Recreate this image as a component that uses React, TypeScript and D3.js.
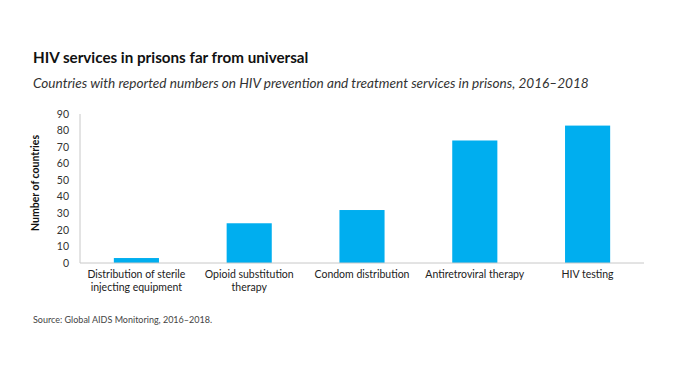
import React from "react";
import * as d3 from "d3";

const categories: string[][] = [
  ["Distribution of sterile", "injecting equipment"],
  ["Opioid substitution", "therapy"],
  ["Condom distribution"],
  ["Antiretroviral therapy"],
  ["HIV testing"],
];
const values: number[] = [3, 24, 32, 74, 83];
const yTicks: number[] = [0, 10, 20, 30, 40, 50, 60, 70, 80, 90];

const title = "HIV services in prisons far from universal";
const subtitle =
  "Countries with reported numbers on HIV prevention and treatment services in prisons, 2016–2018";
const source = "Source: Global AIDS Monitoring, 2016–2018.";
const yLabel = "Number of countries";

export default function App() {
  const W = 675;
  const H = 375;
  const left = 80;
  const right = 644;
  const top = 114;
  const bottom = 263;
  const font = "Lato, 'Open Sans', sans-serif";

  const x = d3
    .scaleBand<number>()
    .domain(values.map((_, i) => i))
    .range([left, right])
    .paddingInner(0.6)
    .paddingOuter(0.3);
  const y = d3.scaleLinear().domain([0, 90]).range([bottom, top]);

  return (
    <svg
      width={W}
      height={H}
      style={{ position: "absolute", left: 0, top: 0, background: "#fff" }}
      fontFamily={font}
    >
      <rect width={W} height={H} fill="#fff" />
      <text x={33} y={63} fontSize={15.2} fontWeight="bold" fill="#111">
        {title}
      </text>
      <text x={33} y={88} fontSize={13.6} fontStyle="italic" fill="#333">
        {subtitle}
      </text>
      {/* y axis */}
      <line x1={left} x2={left} y1={y(90)} y2={bottom} stroke="#c8c8c8" strokeWidth={1} />
      {yTicks.map((t) => (
        <text
          key={t}
          x={69}
          y={y(t)}
          dy="0.35em"
          textAnchor="end"
          fontSize={10.5}
          fill="#333"
        >
          {t}
        </text>
      ))}
      <text
        transform={`translate(39,183) rotate(-90)`}
        textAnchor="middle"
        fontSize={10.5}
        fontWeight="bold"
        fill="#111"
      >
        {yLabel}
      </text>
      {/* bars */}
      {values.map((v, i) => (
        <rect
          key={i}
          x={x(i)!}
          y={y(v)}
          width={x.bandwidth()}
          height={bottom - y(v)}
          fill="#00AEEF"
        />
      ))}
      {/* x axis */}
      <line x1={left} x2={right} y1={bottom} y2={bottom} stroke="#c8c8c8" strokeWidth={1} />
      {categories.map((lines, i) => (
        <text
          key={i}
          x={x(i)! + x.bandwidth() / 2}
          y={278}
          textAnchor="middle"
          fontSize={10.5}
          fill="#222"
        >
          {lines.map((l, j) => (
            <tspan key={j} x={x(i)! + x.bandwidth() / 2} dy={j === 0 ? 0 : 13}>
              {l}
            </tspan>
          ))}
        </text>
      ))}
      <text x={33} y={323} fontSize={9} fill="#444">
        {source}
      </text>
    </svg>
  );
}
